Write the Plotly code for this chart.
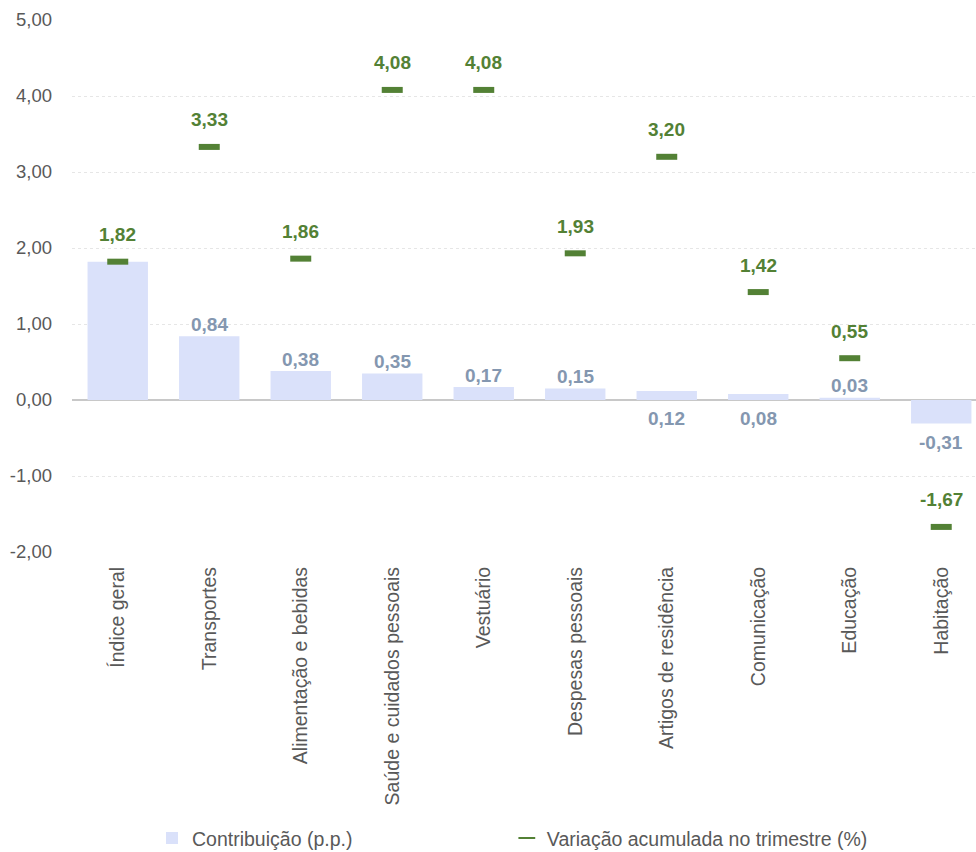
import plotly.graph_objects as go

categories = ["Índice geral", "Transportes", "Alimentação e bebidas", "Saúde e cuidados pessoais",
              "Vestuário", "Despesas pessoais", "Artigos de residência", "Comunicação",
              "Educação", "Habitação"]
contribuicao = [1.82, 0.84, 0.38, 0.35, 0.17, 0.15, 0.12, 0.08, 0.03, -0.31]
variacao = [1.82, 3.33, 1.86, 4.08, 4.08, 1.93, 3.20, 1.42, 0.55, -1.67]
bar_label_shown = [False, True, True, True, True, True, True, True, True, True]
bar_label_below = [False, False, False, False, False, False, True, True, False, True]
y_ticks = [-2, -1, 0, 1, 2, 3, 4, 5]

FONT = "Liberation Sans, Arial, sans-serif"
BAR_COLOR = "#dae1fa"
BAR_TEXT = "#8497b0"
GREEN = "#538135"
GRAY = "#595959"

def fmt(v):
    return f"{v:.2f}".replace(".", ",")

fig = go.Figure()
fig.add_trace(go.Bar(
    x=categories, y=contribuicao, name="Contribuição (p.p.)",
    marker=dict(color=BAR_COLOR, line=dict(width=0)), width=0.66,
    hoverinfo="skip", legend="legend",
))
fig.add_trace(go.Scatter(
    x=categories, y=variacao, name="Variação acumulada no trimestre (%)",
    mode="markers",
    marker=dict(symbol="line-ew", size=15, color=GREEN, line=dict(color=GREEN, width=6)),
    hoverinfo="skip", legend="legend2",
))

annotations = []
for c, v, shown, below in zip(categories, contribuicao, bar_label_shown, bar_label_below):
    if not shown:
        continue
    ypos = v
    if v < 0:
        yshift = -19
    elif below:
        yshift = -18
        ypos = 0
    else:
        yshift = 12
    annotations.append(dict(x=c, y=ypos, text=f"<b>{fmt(v)}</b>",
                            showarrow=False, yshift=yshift,
                            font=dict(family=FONT, size=19, color=BAR_TEXT)))
for c, v in zip(categories, variacao):
    annotations.append(dict(x=c, y=v, text=f"<b>{fmt(v)}</b>", showarrow=False, yshift=27,
                            font=dict(family=FONT, size=19, color=GREEN)))

legend_common = dict(orientation="h", xanchor="left", y=-0.538, yanchor="middle",
                     itemsizing="constant", bgcolor="rgba(0,0,0,0)",
                     font=dict(family=FONT, size=19.5, color=GRAY))

fig.update_layout(
    width=976, height=852,
    margin=dict(l=72, r=0, t=20, b=300, autoexpand=False),
    paper_bgcolor="white", plot_bgcolor="white",
    separators=",.",
    font=dict(family=FONT, color=GRAY),
    bargap=0.34,
    annotations=annotations,
    showlegend=True,
    legend=dict(x=0.0885, **legend_common),
    legend2=dict(x=0.481, **legend_common),
)
fig.update_xaxes(
    range=[-0.5, 9.38], tickangle=-90, showgrid=False, showline=False, ticks="",
    ticklabelstandoff=10,
    tickfont=dict(family=FONT, size=19.5, color=GRAY),
)
fig.update_yaxes(
    range=[-2, 5], tickvals=y_ticks, ticktext=[fmt(t) for t in y_ticks],
    showgrid=True, gridcolor="#e6e6e6", griddash="dot", gridwidth=1,
    zeroline=True, zerolinecolor="#c8c8c8", zerolinewidth=1.5,
    showline=False, ticks="", ticklabelstandoff=19,
    tickfont=dict(family=FONT, size=18.5, color=GRAY),
)

fig.write_html("out.html")
